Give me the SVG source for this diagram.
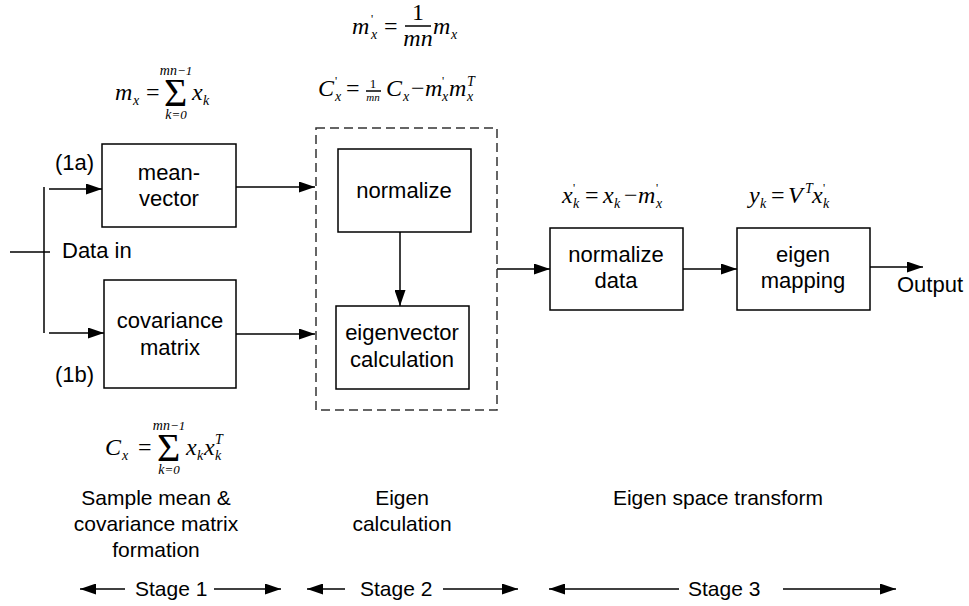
<svg xmlns="http://www.w3.org/2000/svg" width="969" height="606" viewBox="0 0 969 606">
<style>
.box{fill:#fff;stroke:#000;stroke-width:1.5}
.ln{fill:none;stroke:#000;stroke-width:1.5}
.arr{fill:none;stroke:#000;stroke-width:1.5;marker-end:url(#ah)}
.dash{fill:none;stroke:#333;stroke-width:1.5;stroke-dasharray:9 5}
.t{font-family:"Liberation Sans",Arial,sans-serif;font-size:22px;fill:#000}
.tb{font-family:"Liberation Sans",Arial,sans-serif;font-size:21px;fill:#000}
.m{font-family:"Liberation Serif","Times New Roman",serif;font-size:24px;font-style:italic;fill:#000}
.mu{font-family:"Liberation Serif","Times New Roman",serif;font-size:24px;fill:#000}
.s{font-family:"Liberation Serif","Times New Roman",serif;font-size:14px;font-style:italic;fill:#000}
.su{font-family:"Liberation Serif","Times New Roman",serif;font-size:13px;fill:#000}
.sig{font-family:"Liberation Serif","Times New Roman",serif;font-size:40px;fill:#000}
.pr{font-family:"Liberation Serif","Times New Roman",serif;font-size:12px;fill:#000}
.c{text-anchor:middle}
</style>
<defs>
<marker id="ah" viewBox="0 0 16 11" refX="16" refY="5.5" markerWidth="16" markerHeight="11" markerUnits="userSpaceOnUse" orient="auto">
<path d="M0,0 L16,5.5 L0,11 Z" fill="#000"/>
</marker>
</defs>

<g id="connectors">
<line class="ln" x1="10" y1="252" x2="50" y2="252"/>
<line class="ln" x1="44" y1="187" x2="44" y2="333"/>
<line class="arr" x1="49" y1="189" x2="102" y2="189"/>
<line class="arr" x1="49" y1="333" x2="104" y2="333"/>
<line class="arr" x1="236" y1="187" x2="315" y2="187"/>
<line class="arr" x1="236" y1="334" x2="315" y2="334"/>
<line class="arr" x1="400" y1="232" x2="400" y2="306"/>
<line class="arr" x1="497" y1="269" x2="550" y2="269"/>
<line class="arr" x1="683" y1="269" x2="737" y2="269"/>
<line class="arr" x1="870" y1="267" x2="923" y2="267"/>
</g>

<g id="input-labels">
<text class="t" x="55" y="170">(1a)</text>
<text class="t" x="55" y="382">(1b)</text>
<text class="t" x="62" y="258">Data in</text>
<text class="t" x="897" y="292">Output</text>
</g>

<g id="mean-vector">
<rect class="box" x="102" y="144" width="134" height="83"/>
<text class="t c" x="169" y="180">mean-</text>
<text class="t c" x="169" y="206">vector</text>
</g>

<g id="covariance-matrix">
<rect class="box" x="104" y="280" width="132" height="108"/>
<text class="t c" x="170" y="328">covariance</text>
<text class="t c" x="170" y="355">matrix</text>
</g>

<g id="eigen-calc-group">
<rect class="dash" x="316" y="128" width="181" height="282"/>
</g>

<g id="normalize">
<rect class="box" x="338" y="149" width="133" height="83"/>
<text class="t c" x="404" y="198">normalize</text>
</g>

<g id="eigenvector-calculation">
<rect class="box" x="336" y="306" width="133" height="83"/>
<text class="t c" x="402" y="340">eigenvector</text>
<text class="t c" x="402" y="367">calculation</text>
</g>

<g id="normalize-data">
<rect class="box" x="550" y="228" width="133" height="82"/>
<text class="t c" x="616" y="262">normalize</text>
<text class="t c" x="616" y="288">data</text>
</g>

<g id="eigen-mapping">
<rect class="box" x="737" y="228" width="133" height="82"/>
<text class="t c" x="803" y="262">eigen</text>
<text class="t c" x="803" y="288">mapping</text>
</g>

<g id="formula-mean">
<text class="m" x="115" y="100">m</text>
<text class="s" x="133" y="105">x</text>
<text class="mu" x="146" y="100">=</text>
<text class="sig" x="164" y="106">Σ</text>
<text class="s c" x="176" y="75">mn<tspan class="su">−1</tspan></text>
<text class="s c" x="176" y="119">k<tspan class="su">=0</tspan></text>
<text class="m" x="192" y="100">x</text>
<text class="s" x="203" y="105">k</text>
</g>

<g id="formula-mprime">
<text class="m" x="352" y="34">m</text>
<text class="pr" x="371" y="23">'</text>
<text class="s" x="371" y="39">x</text>
<text class="mu" x="384" y="34">=</text>
<text class="mu c" x="418" y="20">1</text>
<line class="ln" x1="405" y1="26" x2="431" y2="26" stroke-width="1.2"/>
<text class="m c" x="418" y="46">mn</text>
<text class="m" x="433" y="34">m</text>
<text class="s" x="451" y="39">x</text>
</g>

<g id="formula-cprime">
<text class="m" x="318" y="96">C</text>
<text class="pr" x="335" y="85">'</text>
<text class="s" x="335" y="101">x</text>
<text class="mu" x="346" y="96">=</text>
<text class="su c" x="373" y="88">1</text>
<line class="ln" x1="366" y1="91" x2="381" y2="91" stroke-width="1"/>
<text class="s c" x="373" y="101" style="font-size:11px">mn</text>
<text class="m" x="386" y="96">C</text>
<text class="s" x="403" y="101">x</text>
<text class="mu" x="411" y="96">−</text>
<text class="m" x="425" y="96">m</text>
<text class="pr" x="442" y="85">'</text>
<text class="s" x="442" y="101">x</text>
<text class="m" x="449" y="96">m</text>
<text class="s" x="467" y="86">T</text>
<text class="s" x="467" y="101">x</text>
</g>

<g id="formula-xprime">
<text class="m" x="562" y="203">x</text>
<text class="pr" x="573" y="192">'</text>
<text class="s" x="573" y="208">k</text>
<text class="mu" x="585" y="203">=</text>
<text class="m" x="603" y="203">x</text>
<text class="s" x="614" y="208">k</text>
<text class="mu" x="624" y="203">−</text>
<text class="m" x="638" y="203">m</text>
<text class="pr" x="656" y="192">'</text>
<text class="s" x="656" y="208">x</text>
</g>

<g id="formula-y">
<text class="m" x="749" y="203">y</text>
<text class="s" x="760" y="208">k</text>
<text class="mu" x="771" y="203">=</text>
<text class="m" x="788" y="203">V</text>
<text class="s" x="805" y="193">T</text>
<text class="m" x="812" y="203">x</text>
<text class="pr" x="823" y="192">'</text>
<text class="s" x="823" y="208">k</text>
</g>

<g id="formula-cov">
<text class="m" x="105" y="455">C</text>
<text class="s" x="122" y="460">x</text>
<text class="mu" x="138" y="455">=</text>
<text class="sig" x="157" y="461">Σ</text>
<text class="s c" x="169" y="430">mn<tspan class="su">−1</tspan></text>
<text class="s c" x="169" y="474">k<tspan class="su">=0</tspan></text>
<text class="m" x="186" y="455">x</text>
<text class="s" x="197" y="460">k</text>
<text class="m" x="204" y="455">x</text>
<text class="s" x="215" y="444">T</text>
<text class="s" x="215" y="460">k</text>
</g>

<g id="stage-captions">
<text class="tb c" x="156" y="505">Sample mean &amp;</text>
<text class="tb c" x="156" y="531">covariance matrix</text>
<text class="tb c" x="156" y="557">formation</text>
<text class="tb c" x="402" y="505">Eigen</text>
<text class="tb c" x="402" y="531">calculation</text>
<text class="tb c" x="718" y="505">Eigen space transform</text>
</g>

<g id="stages">
<line class="arr" x1="125" y1="589" x2="80" y2="589"/>
<text class="tb" x="135" y="596">Stage 1</text>
<line class="arr" x1="214" y1="589" x2="281" y2="589"/>
<line class="arr" x1="345" y1="589" x2="307" y2="589"/>
<text class="tb" x="360" y="596">Stage 2</text>
<line class="arr" x1="443" y1="589" x2="518" y2="589"/>
<line class="arr" x1="679" y1="589" x2="549" y2="589"/>
<text class="tb" x="688" y="596">Stage 3</text>
<line class="arr" x1="783" y1="589" x2="896" y2="589"/>
</g>
</svg>
